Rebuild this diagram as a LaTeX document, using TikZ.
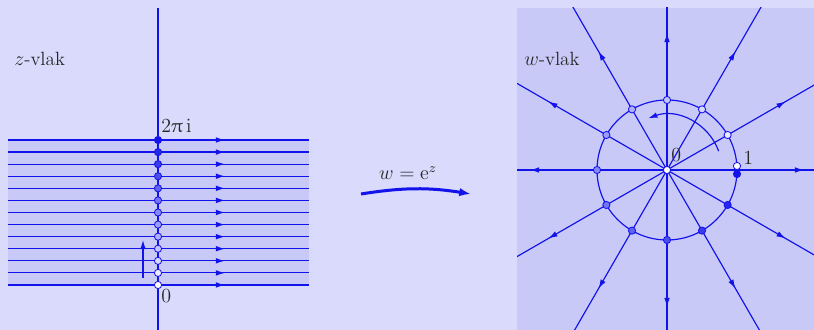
\documentclass[tikz,border=0pt]{standalone}
\usepackage{amsmath}
\usepackage[Euler]{upgreek}
\usetikzlibrary{arrows.meta}
\definecolor{pagebg}{RGB}{218,218,252}
\definecolor{panelbg}{RGB}{201,201,248}
\definecolor{flow}{RGB}{18,18,235}
\tikzset{
  flowline/.style={flow, line width=0.7pt},
  flowtip/.style={-{Latex[length=5.5pt,width=3.4pt]}},
  ptdot/.style={draw=flow, line width=0.5pt, fill=#1},
  planelabel/.style={font=\fontsize{11.5}{14}\selectfont, text=black!85, inner sep=0pt},
}

\begin{document}
\begin{tikzpicture}[x=0.6pt, y=0.6pt]
  \fill[pagebg] (0,0) rectangle (814,330);
  \useasboundingbox (0,0) rectangle (814,330);
  % --- z-plane
  \fill[panelbg] (8,45) rectangle (309,190);
  \foreach \k in {0,...,12} {
    \pgfmathsetmacro{\yy}{45+\k*145/12}
    \draw[flowline, flowtip] (8,\yy) -- (225,\yy);
    \draw[flowline] (220,\yy) -- (309,\yy);
  }
  \draw[flow, line width=1.1pt] (158,0) -- (158,322);
  \foreach \k in {0,...,12} {
    \pgfmathsetmacro{\pct}{100*\k/12}
    \pgfmathsetmacro{\yy}{45+\k*145/12}
    \filldraw[ptdot={flow!\pct!white}] (158,\yy) circle (3.6);
  }
  \coordinate (upfrom) at (143,52);
  \coordinate (upto) at (143,90);
  \draw[flowline, flowtip] (upfrom) -- (upto);
  \node[planelabel, anchor=base west] (twopi) at (161,197) {$2\uppi\,\mathrm{i}$};
  \node[planelabel, anchor=base west] (zzero) at (161,27) {$0$};
  \node[planelabel, anchor=west] (zplane) at (14,271) {$z$-vlak};
  % --- the map
  \coordinate (mapfrom) at (361,136);
  \coordinate (mapto) at (471,136);
  \draw[flow, line width=1.8pt, -{Latex[length=7pt,width=5pt]}] (mapfrom) to[bend left=9] (mapto);
  \node[planelabel] (maplabel) at (408,157) {$w=\mathrm{e}^{z}$};
  % --- w-plane
  \begin{scope}
    \clip (517,0) rectangle (814,322);
    \fill[panelbg] (517,0) rectangle (814,322);
    \begin{scope}[shift={(667,160)}]
      \foreach \a in {0,30,...,330} {
        \draw[flowline, flowtip] (0,0) -- (\a:137);
        \draw[flowline] (\a:132) -- (\a:320);
      }
      \draw[flowline] (0,0) circle (70);
      \draw[flowline, flowtip] (20:55) arc (20:110:55);
      \foreach \k in {1,...,11} {
        \pgfmathsetmacro{\pct}{100*\k/12}
        \filldraw[ptdot={flow!\pct!white}] (\k*30:70) circle (3.6);
      }
      \filldraw[ptdot=flow] (70,-4) circle (3.6);
      \filldraw[ptdot=white] (70,4) circle (3.6);
      \filldraw[ptdot=white] (0,0) circle (3.6);
      \node[planelabel, anchor=base west] (wzero) at (4,8) {$0$};
      \node[planelabel, anchor=base west] (wone) at (76,5) {$1$};
    \end{scope}
  \end{scope}
  \node[planelabel, anchor=west] (wplane) at (524,271) {$w$-vlak};
\end{tikzpicture}
\end{document}
